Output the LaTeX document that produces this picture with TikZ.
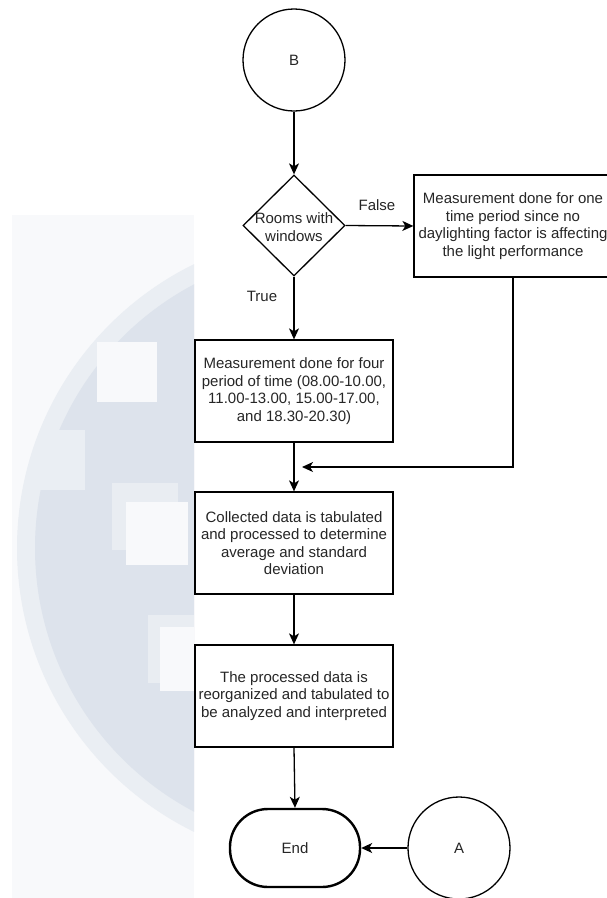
\documentclass[tikz,border=0pt]{standalone}
\usepackage{fontspec}
\setmainfont{Liberation Sans}
\usetikzlibrary{shapes.geometric,arrows.meta}
\definecolor{wmpanel}{HTML}{F8F9FB}
\definecolor{wmcircle}{HTML}{DDE3EC}
\definecolor{wmring}{HTML}{EAEEF3}
\definecolor{wmhalo}{HTML}{E9EDF2}
\definecolor{txt}{HTML}{262626}
\begin{document}
\begin{tikzpicture}[x=1pt,y=-1pt,
  font=\fontsize{15}{17.5}\selectfont,
  line/.style={draw=black, line width=1.3pt},
  arr/.style={line, -{Stealth[length=11pt,width=10pt,inset=3pt]}},
  procbox/.style={line, rectangle, minimum width=198pt, minimum height=102pt, inner sep=0pt, align=center, text=txt},
  conn/.style={line, circle, minimum size=102pt, inner sep=0pt, text=txt},
  decbox/.style={line, diamond, minimum width=102pt, minimum height=101pt, inner sep=0pt},
  termbox/.style={draw=black, line width=2.4pt, rectangle, rounded corners=38pt, minimum width=130pt, minimum height=78pt, inner sep=0pt, text=txt},
  lbl/.style={text=txt, inner sep=0pt, align=center}
]
\useasboundingbox (0,0) rectangle (606,898);
\fill[white] (0,0) rectangle (606,898);
% faint background watermark
\begin{scope}
  \clip (12,215) rectangle (194,898);
  \fill[wmpanel] (12,215) rectangle (194,898);
  \fill[wmring] (333,548) circle (316pt);
  \fill[wmcircle] (333,548) circle (298pt);
  \fill[wmring] (40,430) rectangle (85,490);
  \fill[wmpanel] (97,342) rectangle (157,402);
  \fill[wmhalo] (112,483) rectangle (178,550);
  \fill[wmpanel] (126,502) rectangle (188,565);
  \fill[wmhalo] (148,615) rectangle (194,683);
  \fill[wmpanel] (160,627) rectangle (194,691);
\end{scope}

% nodes
\node[conn] (B) at (294,60) {B};
\node[decbox] (dec) at (294,225.5) {};
\node[lbl] (dectext) at (294,227) {Rooms with\\windows};
\node[procbox] (rb) at (513,226) {Measurement done for one\\time period since no\\daylighting factor is affecting\\the light performance};
\node[procbox] (p1) at (294,391) {Measurement done for four\\period of time (08.00-10.00,\\11.00-13.00, 15.00-17.00,\\and 18.30-20.30)};
\node[procbox] (p2) at (294,543) {Collected data is tabulated\\and processed to determine\\average and standard\\deviation};
\node[procbox] (p3) at (294,696) {The processed data is\\reorganized and tabulated to\\be analyzed and interpreted};
\node[termbox] (end) at (295,848) {End};
\node[conn] (A) at (459,848) {A};
\node[lbl] (false) at (377,205) {False};
\node[lbl] (true) at (262,296) {True};
\coordinate (m) at (302,467);

% connectors
\draw[arr] (B.south) -- (dec.north);
\draw[arr] (dec.east) -- (rb.west);
\draw[arr] (dec.south) -- (p1.north);
\draw[arr] (p1.south) -- (p2.north);
\draw[arr] (rb.south) |- (m);
\draw[arr] (p2.south) -- (p3.north);
\draw[arr] (p3.south) -- (end.north);
\draw[arr] (A.west) -- (end.east);
\end{tikzpicture}
\end{document}
